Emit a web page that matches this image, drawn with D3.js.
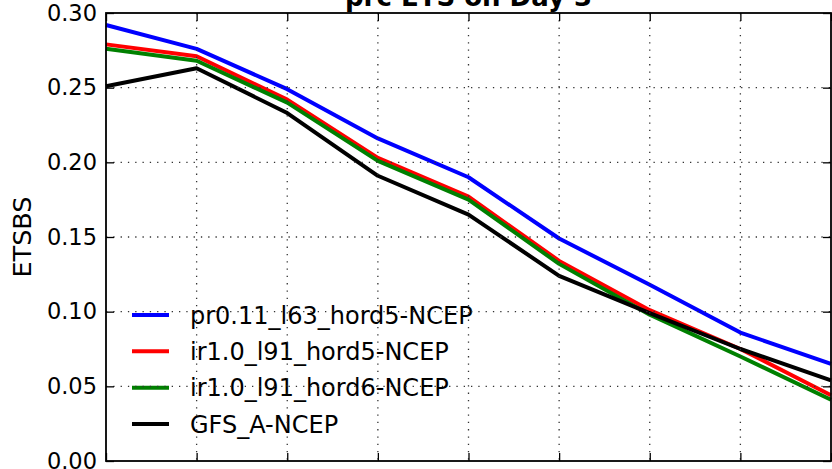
<!DOCTYPE html>
<html>
<head>
<meta charset="utf-8">
<script src="https://cdn.jsdelivr.net/npm/d3@7"></script>
<style>
  html, body { margin: 0; padding: 0; background: #fff; }
  svg { display: block; font-family: "DejaVu Sans", sans-serif; }
</style>
</head>
<body>
<svg id="chart" width="832" height="469"></svg>
<script>
// Threshold steps along the x axis
const steps = [0, 1, 2, 3, 4, 5, 6, 7, 8];

// ETS bias-scores per experiment
const pr011_l63_hord5 = [0.292, 0.276, 0.249, 0.216, 0.190, 0.149, 0.118, 0.086, 0.065];
const ir10_l91_hord5  = [0.279, 0.271, 0.242, 0.203, 0.177, 0.134, 0.101, 0.075, 0.044];
const ir10_l91_hord6  = [0.276, 0.268, 0.240, 0.201, 0.175, 0.132, 0.098, 0.070, 0.041];
const gfsA            = [0.251, 0.263, 0.233, 0.191, 0.165, 0.124, 0.099, 0.075, 0.054];

const seriesNames  = ["pr0.11_l63_hord5-NCEP", "ir1.0_l91_hord5-NCEP", "ir1.0_l91_hord6-NCEP", "GFS_A-NCEP"];
const seriesValues = [pr011_l63_hord5, ir10_l91_hord5, ir10_l91_hord6, gfsA];
const seriesColors = ["#0000ff", "#ff0000", "#008000", "#000000"];

const yTicks = [0.00, 0.05, 0.10, 0.15, 0.20, 0.25, 0.30];
const titleText = "prc ETS on Day 3";
const yLabel = "ETSBS";

const margin = { left: 106, right: 1, top: 13, bottom: 8 };
const W = 832, H = 469;

const svg = d3.select("#chart");

const x = d3.scaleLinear()
  .domain(d3.extent(steps))
  .range([margin.left, W - margin.right]);

const y = d3.scaleLinear()
  .domain([0, 0.30])
  .range([H - margin.bottom, margin.top]);

// Data lines
const line = d3.line()
  .x((d, i) => x(steps[i]))
  .y(d => y(d));

const lines = svg.append("g");
seriesValues.forEach((vals, k) => {
  lines.append("path")
    .datum(vals)
    .attr("d", line)
    .attr("fill", "none")
    .attr("stroke", seriesColors[k])
    .attr("stroke-width", 4)
    .attr("stroke-linejoin", "round");
});

// Legend (no frame)
const legend = svg.append("g");
const legendRowY = d3.scaleLinear().domain([0, 3]).range([315, 424]);
seriesNames.forEach((name, k) => {
  const cy = legendRowY(k);
  legend.append("line")
    .attr("x1", 132).attr("x2", 169)
    .attr("y1", cy).attr("y2", cy)
    .attr("stroke", seriesColors[k])
    .attr("stroke-width", 4);
  legend.append("text")
    .attr("x", 190)
    .attr("y", cy + 8.5)
    .attr("font-size", 24)
    .attr("fill", "#000")
    .text(name);
});

// Dotted grid drawn above the lines
const grid = svg.append("g")
  .attr("stroke", "#333")
  .attr("stroke-width", 1.3)
  .attr("stroke-dasharray", "1.3,6");
steps.slice(1, -1).forEach(s => {
  grid.append("line")
    .attr("x1", x(s)).attr("x2", x(s))
    .attr("y1", y(0.30)).attr("y2", y(0));
});
yTicks.slice(1, -1).forEach(t => {
  grid.append("line")
    .attr("x1", x(steps[0])).attr("x2", x(steps[steps.length - 1]))
    .attr("y1", y(t)).attr("y2", y(t));
});

// Axes with inward ticks
const tickLen = 8;
const yAxisL = d3.axisLeft(y).tickValues(yTicks).tickSize(-tickLen).tickPadding(9)
  .tickFormat(d3.format(".2f"));
const yAxisR = d3.axisRight(y).tickValues(yTicks).tickSize(-tickLen).tickFormat("");
const xAxisB = d3.axisBottom(x).tickValues(steps).tickSize(-tickLen).tickFormat("");
const xAxisT = d3.axisTop(x).tickValues(steps).tickSize(-tickLen).tickFormat("");

function styleAxis(g) {
  g.select(".domain").remove();
  g.selectAll(".tick line").attr("stroke", "#000").attr("stroke-width", 1.3);
  g.selectAll(".tick text").attr("fill", "#000").attr("font-size", 22.5)
    .attr("font-family", "DejaVu Sans, sans-serif");
}

svg.append("g").attr("transform", `translate(${x(steps[0])},0)`).call(yAxisL).call(styleAxis);
svg.append("g").attr("transform", `translate(${x(steps[steps.length - 1])},0)`).call(yAxisR).call(styleAxis);
svg.append("g").attr("transform", `translate(0,${y(0)})`).call(xAxisB).call(styleAxis);
svg.append("g").attr("transform", `translate(0,${y(0.30)})`).call(xAxisT).call(styleAxis);

// Plot frame
svg.append("rect")
  .attr("x", x(steps[0])).attr("y", y(0.30))
  .attr("width", x(steps[steps.length - 1]) - x(steps[0]))
  .attr("height", y(0) - y(0.30))
  .attr("fill", "none")
  .attr("stroke", "#000")
  .attr("stroke-width", 1.8);

// Title
svg.append("text")
  .attr("x", (x(steps[0]) + x(steps[steps.length - 1])) / 2)
  .attr("y", 6)
  .attr("text-anchor", "middle")
  .attr("font-size", 26)
  .attr("font-weight", "bold")
  .attr("fill", "#000")
  .text(titleText);

// Y axis label
svg.append("text")
  .attr("transform", `translate(31,${(y(0) + y(0.30)) / 2}) rotate(-90)`)
  .attr("text-anchor", "middle")
  .attr("font-size", 25.5)
  .attr("fill", "#000")
  .text(yLabel);
</script>
</body>
</html>
